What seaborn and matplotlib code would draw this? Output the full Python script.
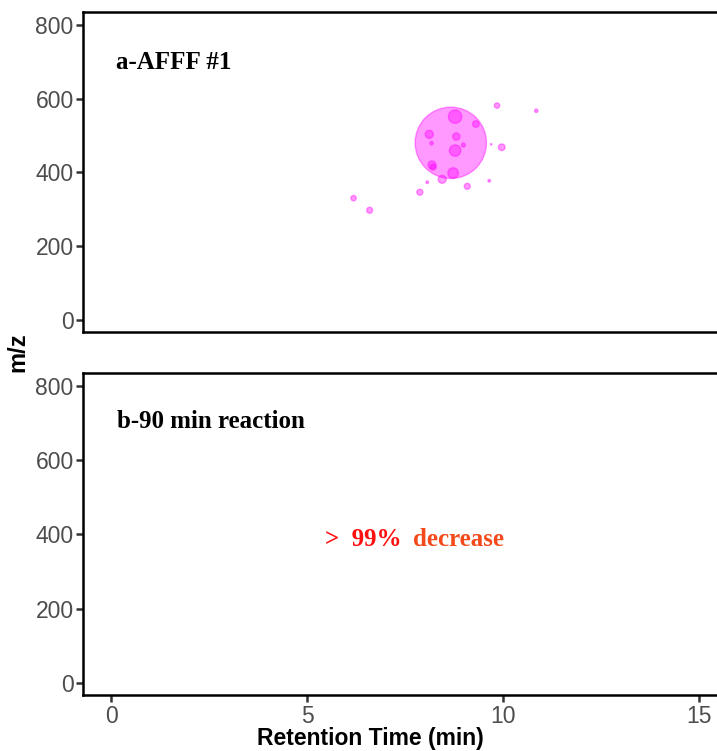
import numpy as np
import pandas as pd
import matplotlib
matplotlib.use("Agg")
import matplotlib.pyplot as plt
import seaborn as sns

# -----------------------------
# DATA
# -----------------------------
# a - AFFF #1 features: retention time (min), m/z, relative abundance
rt_min = [8.66, 8.77, 9.30, 9.84, 10.84, 8.11, 8.80, 8.17, 8.98, 9.69, 9.96,
          8.77, 8.18, 8.21, 8.72, 8.44, 8.06, 9.64, 9.08, 7.87, 6.18, 6.59]
mz = [480, 551, 531, 581, 567, 503, 497, 479, 474, 476, 468,
      459, 420, 414, 398, 381, 373, 377, 362, 346, 330, 297]
abundance = [100, 3.5, 0.86, 0.57, 0.23, 1.26, 1.07, 0.23, 0.31, 0.04, 0.86,
             2.55, 1.26, 0.71, 2.2, 1.26, 0.13, 0.13, 0.71, 0.71, 0.57, 0.71]

x_ticks = [0, 5, 10, 15]
y_ticks = [0, 200, 400, 600, 800]

panel_a_label = "a-AFFF #1"
panel_b_label = "b-90 min reaction"
decrease_pct = ">  99%"
decrease_word = "decrease"

df = pd.DataFrame({"rt": rt_min, "mz": mz, "abundance": abundance})

# -----------------------------
# STYLE
# -----------------------------
sns.set_style("white")
plt.rcParams["font.family"] = ["Liberation Sans", "DejaVu Sans"]

fig = plt.figure(figsize=(7.17, 7.51), dpi=100)
ax1 = fig.add_axes([0.1153, 0.558, 0.8847, 0.4261])
ax2 = fig.add_axes([0.1153, 0.0746, 0.8847, 0.4288])

for ax in (ax1, ax2):
    ax.set_xlim(-0.73, 15.45)
    ax.set_ylim(-33, 835)
    ax.set_yticks(y_ticks)
    ax.set_xticks(x_ticks)
    for side in ["top", "left", "bottom"]:
        ax.spines[side].set_visible(True)
        ax.spines[side].set_color("black")
        ax.spines[side].set_linewidth(1.8)
    ax.spines["right"].set_visible(False)
    ax.tick_params(axis="y", length=5, width=1.8, color="#333333",
                   labelsize=16.5, labelcolor="#4D4D4D", pad=1.5, left=True)
    ax.set_xlabel("")
    ax.set_ylabel("")

ax1.tick_params(axis="x", bottom=False, labelbottom=False)
ax2.tick_params(axis="x", length=5, width=1.8, color="#333333", bottom=True,
                labelsize=16.5, labelcolor="#4D4D4D", pad=2.5)

# -----------------------------
# BUBBLES
# -----------------------------
sns.scatterplot(data=df, x="rt", y="mz", size="abundance",
                sizes=(0, 2640), size_norm=(0, 100),
                color="#FF00FF", alpha=0.4, edgecolor="#FF00FF",
                linewidth=1.0, legend=False, ax=ax1)
ax1.set_xlabel("")
ax1.set_ylabel("")

# -----------------------------
# TEXT
# -----------------------------
serif = dict(family=["Liberation Serif", "DejaVu Serif"], weight="bold", fontsize=18)
ax1.text(0.11, 699, panel_a_label, ha="left", va="center", color="black", **serif)
ax2.text(0.14, 705, panel_b_label, ha="left", va="center", color="black", **serif)
ax2.text(5.45, 387, decrease_pct, ha="left", va="center", color="#FF1010", **serif)
ax2.text(7.70, 387, decrease_word, ha="left", va="center", color="#F24A1A", **serif)

ax2.set_xlabel("Retention Time (min)", fontsize=16.5, fontweight="bold", color="black")
ax2.xaxis.set_label_coords(0.453, -0.1)
fig.text(18 / 717, 1 - 352 / 751, "m/z", rotation=90, ha="center", va="center",
         fontsize=17, fontweight="bold", color="black")

fig.savefig("out.png", dpi=100)
